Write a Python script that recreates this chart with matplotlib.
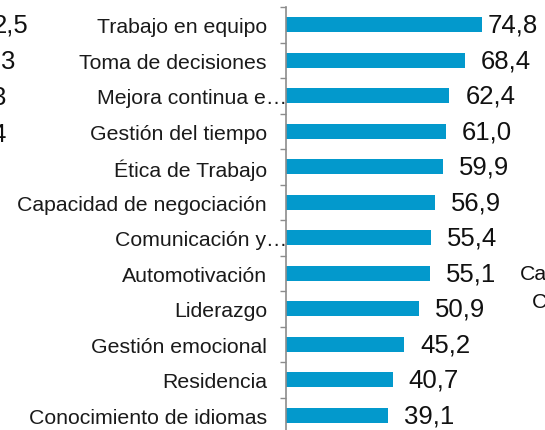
import matplotlib
matplotlib.use('Agg')
import matplotlib.pyplot as plt
import matplotlib.transforms as mtransforms
import numpy as np

plt.rcParams['font.family'] = ['Liberation Sans', 'DejaVu Sans']

categories = ['Trabajo en equipo', 'Toma de decisiones', 'Mejora continua e\u2026',
              'Gestión del tiempo', 'Ética de Trabajo', 'Capacidad de negociación',
              'Comunicación y\u2026', 'Automotivación', 'Liderazgo',
              'Gestión emocional', 'Residencia', 'Conocimiento de idiomas']
values = [74.8, 68.4, 62.4, 61.0, 59.9, 56.9, 55.4, 55.1, 50.9, 45.2, 40.7, 39.1]

# bits of the neighbouring charts that are cut off at the edges
left_bits = ['2,5', '3', '3', '4']
right_bits = ['Ca', 'C']

BAR_COLOUR = '#0399CC'
AXIS_COLOUR = '#8C8C8C'

W, H = 545, 431
fig = plt.figure(figsize=(W / 100, H / 100), dpi=100)

px_per_unit = 2.62
ax_left = 286
ax_top = 8
row = 35.5
n = len(categories)
ax = fig.add_axes([ax_left / W, 1 - (ax_top + n * row) / H,
                   (W - ax_left) / W, n * row / H])

y = np.arange(n)
ax.barh(y, values, height=0.41, color=BAR_COLOUR)
ax.set_xlim(0, (W - ax_left) / px_per_unit)
ax.set_ylim(n - 0.5, -0.5)

for s in ['top', 'right', 'bottom']:
    ax.spines[s].set_visible(False)
ax.spines['left'].set_color(AXIS_COLOUR)
ax.spines['left'].set_linewidth(1.2)
ax.set_xticks([])

ax.set_yticks(y)
ax.set_yticklabels(categories, fontsize=15.3, color='#1a1a1a')
ax.tick_params(axis='y', which='major', length=0, pad=13.7)
ax.set_yticks(np.arange(-0.5, n, 1), minor=True)
ax.tick_params(axis='y', which='minor', length=4.3, width=1.0, color=AXIS_COLOUR)

# truncated labels sit further right, against the axis
for lab in ax.get_yticklabels():
    if lab.get_text().endswith('\u2026'):
        lab.set_transform(lab.get_transform() +
                          mtransforms.ScaledTranslation(20 / 100, 0, fig.dpi_scale_trans))

for yi, v in zip(y, values):
    off = 4 if v == max(values) else 11.5
    ax.annotate(f'{v:.1f}'.replace('.', ','), (v, yi), xytext=(off, 0),
                textcoords='offset points', va='center', ha='left',
                fontsize=18.5, color='#111111')

left_pos = [(28, 26), (15, 62), (6, 98), (6, 135)]
for t, (px, py) in zip(left_bits, left_pos):
    fig.text(px / W, 1 - py / H, t, ha='right', va='center', fontsize=18.5, color='#111111')

right_pos = [(520, 275), (532, 302)]
for t, (px, py) in zip(right_bits, right_pos):
    fig.text(px / W, 1 - py / H, t, ha='left', va='center', fontsize=15.3, color='#111111')

fig.savefig('out.png', dpi=100)
